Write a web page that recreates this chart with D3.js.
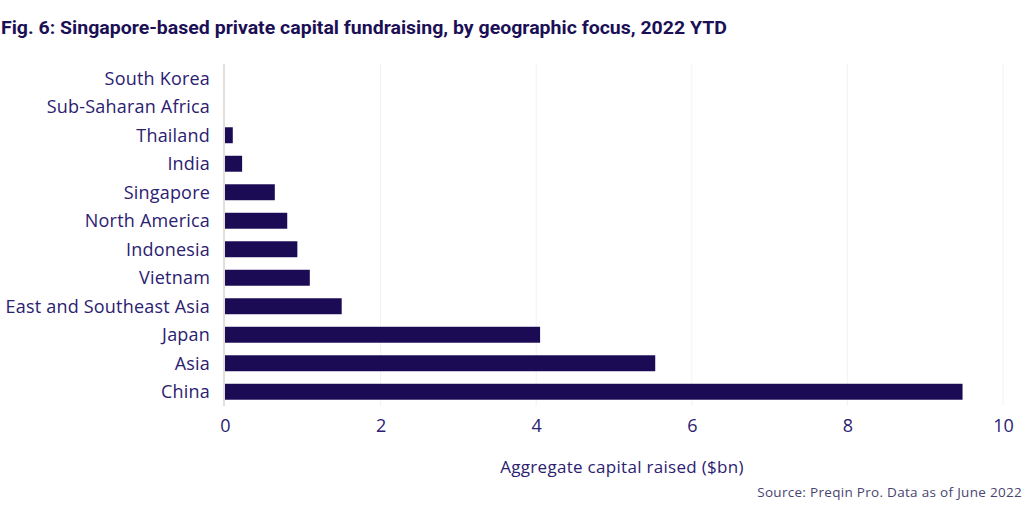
<!DOCTYPE html>
<html lang="en">
<head>
<meta charset="UTF-8">
<script src="https://d3js.org/d3.v7.min.js"></script>
<title>Fig. 6</title>
<style>
  body { margin: 0; background: #fff; }
</style>
</head>
<body>
<div id="chart"></div>
<script>
// data
var regions = ["South Korea", "Sub-Saharan Africa", "Thailand", "India", "Singapore",
  "North America", "Indonesia", "Vietnam", "East and Southeast Asia", "Japan", "Asia", "China"]
var raised = [0, 0, 0.1, 0.22, 0.64, 0.8, 0.93, 1.09, 1.5, 4.05, 5.53, 9.48]
var ticks = [0, 2, 4, 6, 8, 10]

var width = 1024, height = 512
var margin = {left: 225, right: 20, top: 64, bottom: 106}
var barColor = "#1b0a54"
var textColor = "#2b2170"
var font = "'Open Sans', sans-serif"

var svg = d3.select("#chart").append("svg")
  .attr("width", width)
  .attr("height", height)

svg.append("text")
  .attr("x", 1).attr("y", 34)
  .attr("font-family", "Roboto, sans-serif")
  .attr("font-weight", "bold")
  .attr("font-size", 18)
  .attr("textLength", 726)
  .attr("lengthAdjust", "spacingAndGlyphs")
  .attr("fill", "#1b0f55")
  .text("Fig. 6: Singapore-based private capital fundraising, by geographic focus, 2022 YTD")

var x = d3.scaleLinear().domain([0, 10]).range([margin.left, 1003])
var y = d3.scaleBand().domain(regions)
  .range([margin.top, height - margin.bottom])
  .paddingInner(0.44).paddingOuter(0.22)

// faint gridlines
svg.selectAll(".grid").data(ticks.slice(1))
  .enter().append("line")
  .attr("x1", d => x(d)).attr("x2", d => x(d))
  .attr("y1", margin.top).attr("y2", height - margin.bottom)
  .attr("stroke", "#f2f1f4").attr("stroke-width", 1)

svg.selectAll(".bar").data(regions)
  .enter().append("rect")
  .attr("x", x(0))
  .attr("y", d => y(d))
  .attr("height", y.bandwidth())
  .attr("width", (d, i) => x(raised[i]) - x(0))
  .attr("fill", barColor)

// baseline
svg.append("line")
  .attr("x1", x(0) - 1).attr("x2", x(0) - 1)
  .attr("y1", margin.top).attr("y2", height - margin.bottom)
  .attr("stroke", "#e3ded8").attr("stroke-width", 2)

svg.selectAll(".lab").data(regions)
  .enter().append("text")
  .attr("x", 210)
  .attr("y", d => y(d) + y.bandwidth() / 2)
  .attr("dy", "0.35em")
  .attr("text-anchor", "end")
  .attr("font-family", font)
  .attr("font-size", 18)
  .attr("letter-spacing", 0.2)
  .attr("fill", textColor)
  .text(d => d)

var xAxis = svg.append("g")
  .attr("transform", "translate(0," + (height - margin.bottom) + ")")
  .call(d3.axisBottom(x).tickValues(ticks).tickSize(0).tickPadding(13))
xAxis.select(".domain").remove()
xAxis.selectAll("text")
  .attr("font-family", font)
  .attr("font-size", 18)
  .attr("fill", textColor)

svg.append("text")
  .attr("x", 622).attr("y", 473)
  .attr("text-anchor", "middle")
  .attr("font-family", font)
  .attr("font-size", 17)
  .attr("letter-spacing", 0.3)
  .attr("fill", textColor)
  .text("Aggregate capital raised ($bn)")

svg.append("text")
  .attr("x", 1022).attr("y", 497)
  .attr("text-anchor", "end")
  .attr("font-family", font)
  .attr("font-size", 13.5)
  .attr("letter-spacing", 0.3)
  .attr("fill", "#4a4470")
  .text("Source: Preqin Pro. Data as of June 2022")
</script>
</body>
</html>
